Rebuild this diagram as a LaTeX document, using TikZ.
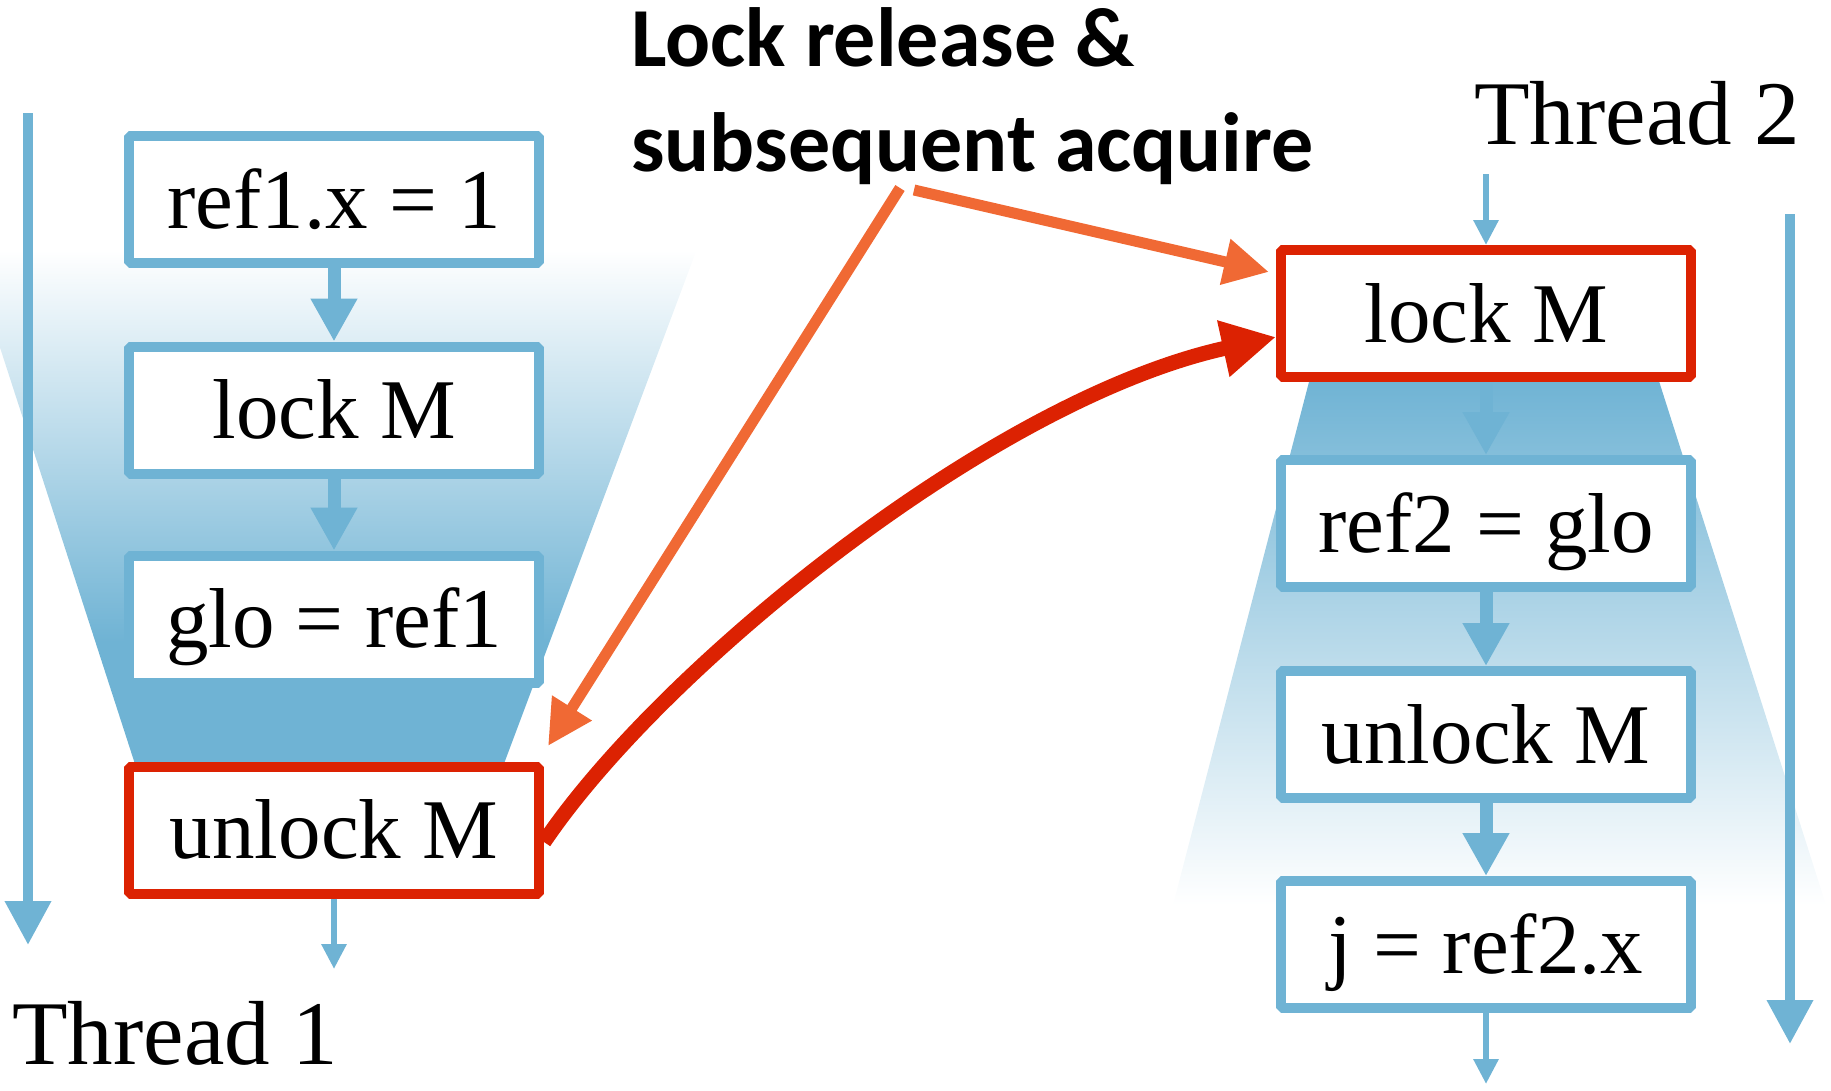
\documentclass[tikz,border=0pt]{standalone}
\usepackage{fontspec}
\setmainfont{Liberation Serif}
\newfontfamily\titlefont{Carlito}
\usetikzlibrary{arrows.meta}
\definecolor{tblue}{RGB}{111,179,212}
\definecolor{tred}{RGB}{220,34,2}
\definecolor{torange}{RGB}{240,105,52}
\pgfdeclareverticalshading{lefttrap}{100bp}{color(0bp)=(tblue); color(37bp)=(tblue); color(75bp)=(white); color(100bp)=(white)}
\begin{document}
\begin{tikzpicture}[x=1pt,y=-1pt,
  stepbox/.style={draw=tblue, line width=10pt, line join=bevel, fill=white,
    minimum width=410pt, minimum height=127pt, inner sep=0pt,
    text height=75pt, text depth=18pt, font=\fontsize{85}{100}\selectfont},
  redbox/.style={stepbox, draw=tred},
  flow/.style={draw=tblue, line width=13pt, -{Triangle[width=44pt,length=43pt]}},
  thinflow/.style={draw=tblue, line width=6pt, -{Triangle[width=24pt,length=25pt]}},
  longflow/.style={draw=tblue, line width=10pt, -{Triangle[width=44pt,length=44pt]}},
  orangearrow/.style={draw=torange, line width=11pt, -{Triangle[width=44pt,length=45pt]}},
  redarrow/.style={draw=tred, line width=15pt, -{Triangle[width=54pt,length=54pt]}},
  threadlabel/.style={anchor=base west, inner sep=0pt, font=\fontsize{91}{100}\selectfont},
]
\useasboundingbox (0,0) rectangle (1831,1090);
% background funnels
\begin{scope}
  \clip (0,0) rectangle (1831,1090);
  \shade[shading=lefttrap] (-31.6,250) -- (696.6,250) -- (503.5,765) -- (135.3,765) -- cycle;
  \shade[top color=tblue, bottom color=white] (1310,378) -- (1658,378) -- (1826,905) -- (1173,905) -- cycle;
\end{scope}
% thread time-lines
\coordinate (t1a) at (28,113);
\coordinate (t1b) at (28,945);
\coordinate (t2a) at (1790,214);
\coordinate (t2b) at (1790,1044);
\draw[longflow] (t1a) -- (t1b);
\draw[longflow] (t2a) -- (t2b);
% flow arrows (drawn below the boxes)
\coordinate (c1) at (334,199.5);
% boxes
\node[stepbox] (L1) at (334,199.5) {ref1.x = 1};
\node[stepbox] (L2) at (334,410) {lock M};
\node[stepbox] (L3) at (334,619) {glo = ref1};
\node[redbox]  (L4) at (334,830) {unlock M};
\node[redbox]  (R1) at (1486,313.5) {lock M};
\node[stepbox] (R2) at (1486,523.5) {ref2 = glo};
\node[stepbox] (R3) at (1486,734.5) {unlock M};
\node[stepbox] (R4) at (1486,944.5) {j = ref2.x};
\draw[flow] (L1) -- (L2);
\draw[flow] (L2) -- (L3);
\draw[flow] (L3) -- (L4);
\draw[flow] (R1) -- (R2);
\draw[flow] (R2) -- (R3);
\draw[flow] (R3) -- (R4);
\coordinate (l4out) at (334,969);
\coordinate (r1in) at (1486,174);
\coordinate (r4out) at (1486,1084);
\draw[thinflow] (L4) -- (l4out);
\draw[thinflow] (r1in) -- (R1);
\draw[thinflow] (R4) -- (r4out);
% labels
\node[threadlabel] (T1) at (12,1064) {Thread 1};
\node[threadlabel] (T2) at (1474,144) {Thread 2};
\node[anchor=base west, inner sep=0pt, align=left,
      font=\titlefont\bfseries\fontsize{84}{105}\selectfont] (title) at (631,171)
      {Lock release \&\\subsequent acquire};
% release / acquire arrows
\coordinate (osrc1) at (900,188);
\coordinate (osrc2) at (914,190);
\coordinate (oend1) at (548,746);
\coordinate (oend2) at (1269,272);
\draw[orangearrow] (osrc1) -- (oend1);
\draw[orangearrow] (osrc2) -- (oend2);
\draw[redarrow] ([yshift=-12pt]L4.east) .. controls (660,670) and (990,400) .. ([yshift=-23.5pt]R1.west);
\end{tikzpicture}
\end{document}
